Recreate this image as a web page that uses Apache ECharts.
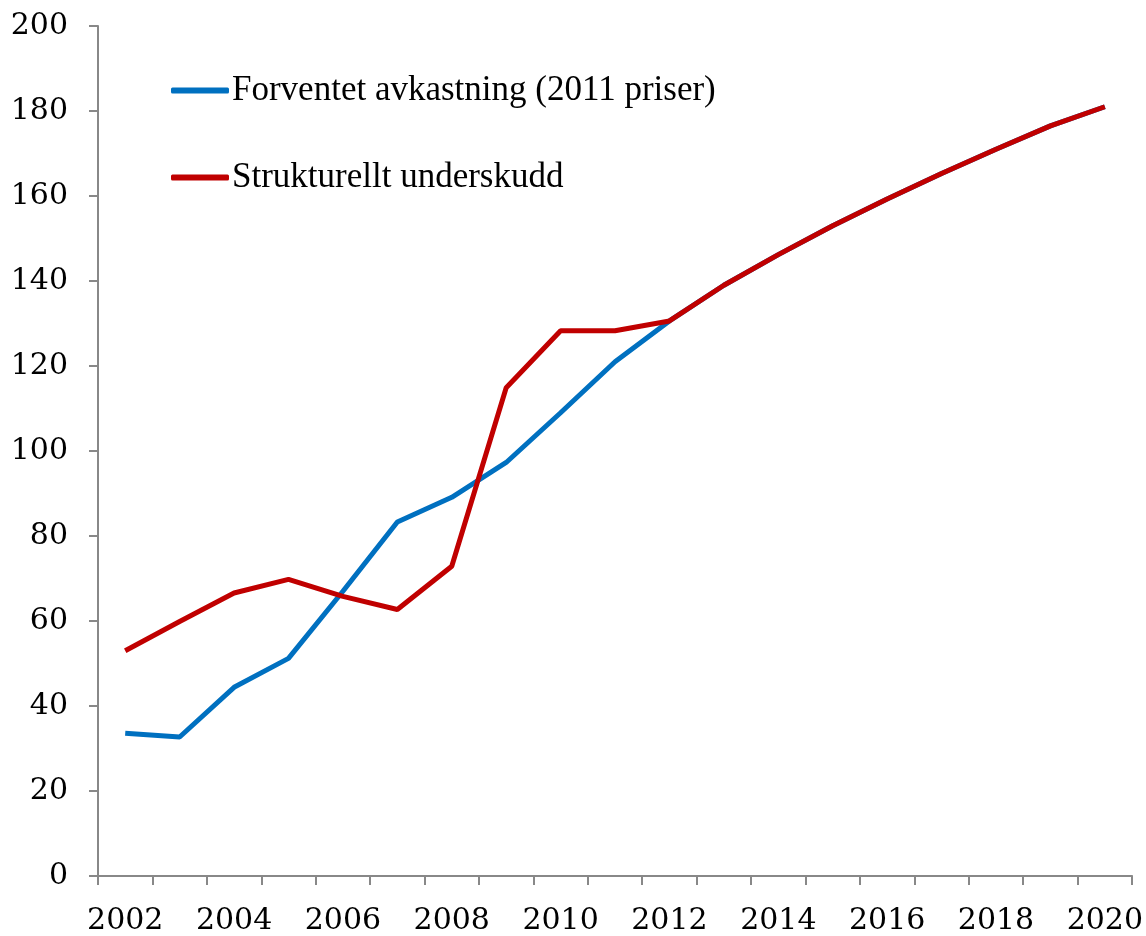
<!DOCTYPE html>
<html>
<head>
<meta charset="utf-8">
<script src="https://cdn.jsdelivr.net/npm/echarts@6/dist/echarts.min.js"></script>
<style>
  html, body { margin: 0; padding: 0; background: #fff; }
  #chart { width: 1146px; height: 936px; }
</style>
</head>
<body>
<div id="chart"></div>
<script>
// years on x axis
var years = ['2002', '2003', '2004', '2005', '2006', '2007', '2008', '2009', '2010', '2011',
             '2012', '2013', '2014', '2015', '2016', '2017', '2018', '2019', '2020'];
// Forventet avkastning (2011 priser)
var avkastning = [33.6, 32.7, 44.4, 51.2, 67.0, 83.3, 89.1, 97.3, 109.0, 121.0,
                  130.6, 139.0, 146.2, 153.0, 159.3, 165.3, 171.0, 176.5, 181.0];
// Strukturelt underskudd
var underskudd = [53.0, 59.9, 66.6, 69.8, 65.8, 62.7, 72.9, 114.9, 128.3, 128.3,
                  130.6, 139.0, 146.2, 153.0, 159.3, 165.3, 171.0, 176.5, 181.0];

var tickFont = '"DejaVu Serif", serif';
var legendFont = '"Liberation Serif", serif';
var axisGray = '#888888';

var chart = echarts.init(document.getElementById('chart'));
chart.setOption({
    animation: false,
    grid: { left: 98, right: 13, top: 26, bottom: 59 },
    legend: {
        left: 166,
        top: 68,
        orient: 'vertical',
        itemGap: 52,
        itemWidth: 58,
        itemHeight: 6,
        icon: 'roundRect',
        textStyle: { fontFamily: legendFont, fontSize: 35, color: '#000', padding: [0, 0, 0, -2] },
        data: ['Forventet avkastning (2011 priser)', 'Strukturellt underskudd']
    },
    xAxis: {
        type: 'category',
        data: years,
        boundaryGap: true,
        axisLine: { lineStyle: { color: axisGray, width: 2 } },
        axisTick: { show: true, interval: 0, length: 9, lineStyle: { color: axisGray, width: 2 } },
        axisLabel: { interval: 1, fontFamily: tickFont, fontSize: 30, color: '#000', margin: 30 },
        splitLine: { show: false }
    },
    yAxis: {
        type: 'value',
        min: 0,
        max: 200,
        interval: 20,
        axisLine: { show: true, lineStyle: { color: axisGray, width: 2 } },
        axisTick: { show: true, length: 9, lineStyle: { color: axisGray, width: 2 } },
        axisLabel: { fontFamily: tickFont, fontSize: 30, color: '#000', margin: 30 },
        splitLine: { show: false }
    },
    series: [
        {
            name: 'Forventet avkastning (2011 priser)',
            type: 'line',
            data: avkastning,
            symbol: 'none',
            lineStyle: { color: '#0070C0', width: 5 },
            itemStyle: { color: '#0070C0' }
        },
        {
            name: 'Strukturellt underskudd',
            type: 'line',
            data: underskudd,
            symbol: 'none',
            lineStyle: { color: '#C00000', width: 5 },
            itemStyle: { color: '#C00000' }
        }
    ]
});
</script>
</body>
</html>
